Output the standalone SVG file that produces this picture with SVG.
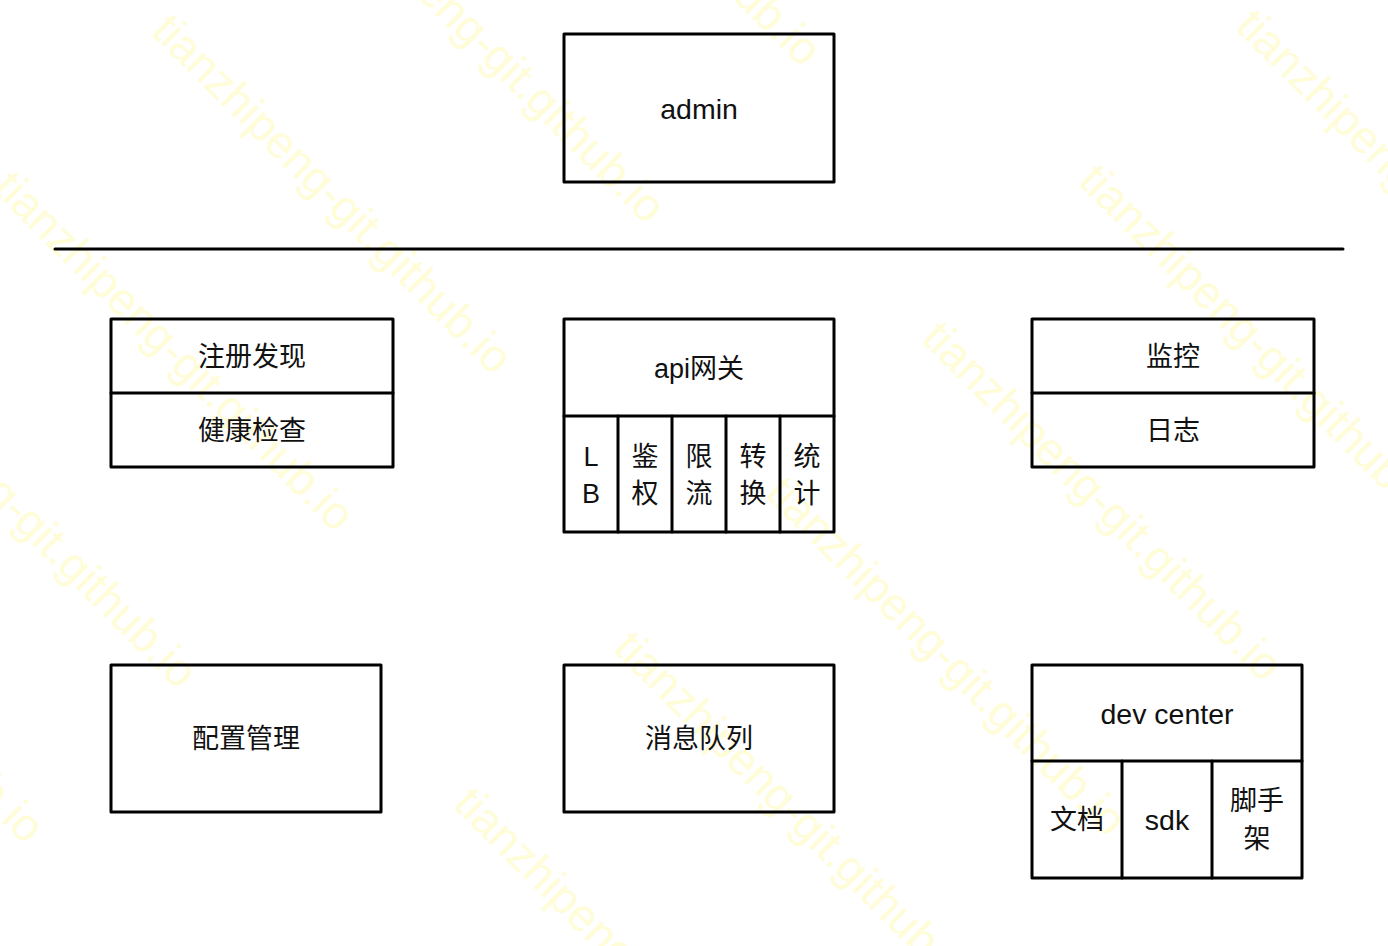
<svg xmlns="http://www.w3.org/2000/svg" width="1388" height="946" viewBox="0 0 1388 946">
<style>
.bg{fill:#ffffff}
.box{fill:none;stroke:#000;stroke-width:3;stroke-linejoin:round}
.ln{stroke:#000;stroke-width:3;stroke-linecap:round}
.t{font-family:"Liberation Sans","Noto Sans CJK SC",sans-serif;font-size:27px;fill:#111;text-anchor:middle;dominant-baseline:central}
.l{font-size:28.5px}
.wm{font-family:"Liberation Sans",sans-serif;font-size:46px;fill:#fffcd8}
</style>
<rect class="bg" x="0" y="0" width="1388" height="946"/>
<g id="watermark">
<text class="wm" transform="translate(459,-275) rotate(45)">tianzhipeng-git.github.io</text>
<text class="wm" transform="translate(303,-118) rotate(45)">tianzhipeng-git.github.io</text>
<text class="wm" transform="translate(150,33) rotate(45)">tianzhipeng-git.github.io</text>
<text class="wm" transform="translate(-8,190) rotate(45)">tianzhipeng-git.github.io</text>
<text class="wm" transform="translate(-165,347) rotate(45)">tianzhipeng-git.github.io</text>
<text class="wm" transform="translate(-318,502) rotate(45)">tianzhipeng-git.github.io</text>
<text class="wm" transform="translate(1234,28) rotate(45)">tianzhipeng-git.github.io</text>
<text class="wm" transform="translate(1077,183) rotate(45)">tianzhipeng-git.github.io</text>
<text class="wm" transform="translate(920,340) rotate(45)">tianzhipeng-git.github.io</text>
<text class="wm" transform="translate(764,495) rotate(45)">tianzhipeng-git.github.io</text>
<text class="wm" transform="translate(612,650) rotate(45)">tianzhipeng-git.github.io</text>
<text class="wm" transform="translate(452,806) rotate(45)">tianzhipeng-git.github.io</text>
</g>
<g id="divider">
<line class="ln" x1="55" y1="249" x2="1343" y2="249"/>
</g>
<g id="admin">
<rect class="box" x="564" y="34" width="270" height="148"/>
<text class="t l" x="699" y="109">admin</text>
</g>
<g id="registry">
<rect class="box" x="111" y="319" width="282" height="148"/>
<line class="ln" x1="111" y1="393" x2="393" y2="393"/>
<text class="t" x="252" y="357">注册发现</text>
<text class="t" x="252" y="431">健康检查</text>
</g>
<g id="api-gateway">
<rect class="box" x="564" y="319" width="270" height="213"/>
<line class="ln" x1="564" y1="416" x2="834" y2="416"/>
<line class="ln" x1="618" y1="416" x2="618" y2="532"/>
<line class="ln" x1="672" y1="416" x2="672" y2="532"/>
<line class="ln" x1="726" y1="416" x2="726" y2="532"/>
<line class="ln" x1="780" y1="416" x2="780" y2="532"/>
<text class="t" x="699" y="369">api网关</text>
<text class="t" x="591" y="457">L</text>
<text class="t" x="591" y="494">B</text>
<text class="t" x="645" y="457">鉴</text>
<text class="t" x="645" y="494">权</text>
<text class="t" x="699" y="457">限</text>
<text class="t" x="699" y="494">流</text>
<text class="t" x="753" y="457">转</text>
<text class="t" x="753" y="494">换</text>
<text class="t" x="807" y="457">统</text>
<text class="t" x="807" y="494">计</text>
</g>
<g id="monitor">
<rect class="box" x="1032" y="319" width="282" height="148"/>
<line class="ln" x1="1032" y1="393" x2="1314" y2="393"/>
<text class="t" x="1173" y="357">监控</text>
<text class="t" x="1173" y="431">日志</text>
</g>
<g id="config">
<rect class="box" x="111" y="665" width="270" height="147"/>
<text class="t" x="246" y="739">配置管理</text>
</g>
<g id="mq">
<rect class="box" x="564" y="665" width="270" height="147"/>
<text class="t" x="699" y="739">消息队列</text>
</g>
<g id="dev-center">
<rect class="box" x="1032" y="665" width="270" height="213"/>
<line class="ln" x1="1032" y1="761" x2="1302" y2="761"/>
<line class="ln" x1="1122" y1="761" x2="1122" y2="878"/>
<line class="ln" x1="1212" y1="761" x2="1212" y2="878"/>
<text class="t l" x="1167" y="714">dev center</text>
<text class="t" x="1077" y="820">文档</text>
<text class="t l" x="1167" y="820">sdk</text>
<text class="t" x="1257" y="801">脚手</text>
<text class="t" x="1257" y="839">架</text>
</g>
</svg>
